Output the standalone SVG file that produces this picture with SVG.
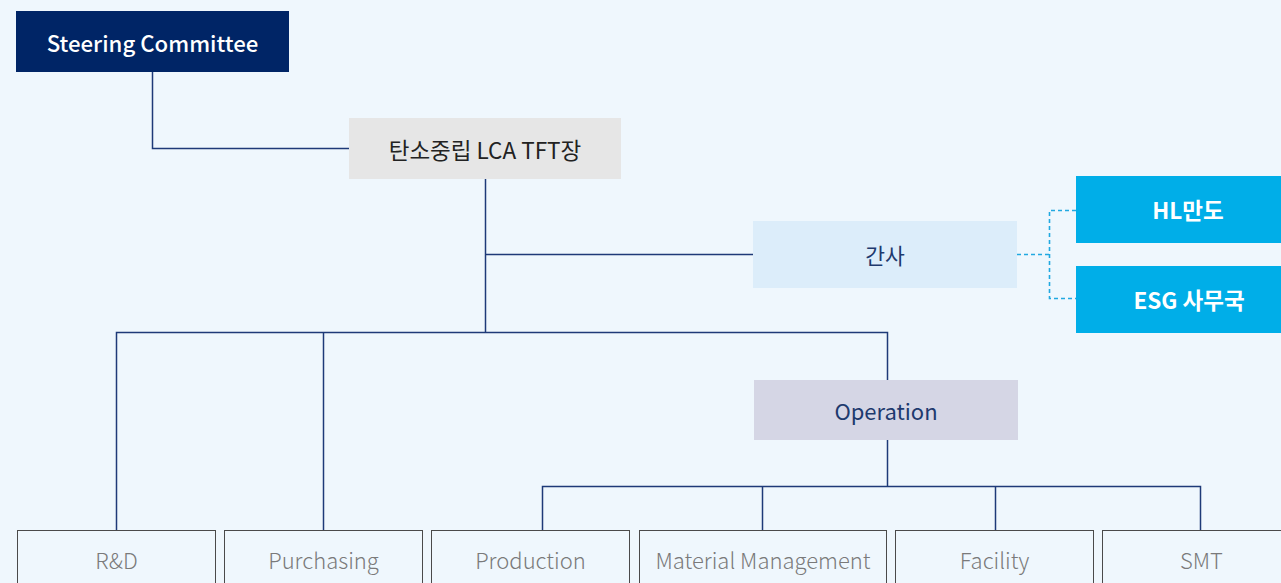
<svg xmlns="http://www.w3.org/2000/svg" width="1281" height="583" viewBox="0 0 1281 583">
<style>
text{font-family:"Noto Sans CJK KR","Noto Sans",sans-serif;text-anchor:middle;dominant-baseline:central}
.ln{stroke:#1e3a78;stroke-width:1.5;fill:none}
.dash{stroke:#21a9e1;stroke-width:1.6;fill:none;stroke-dasharray:4 3}
.bot rect{fill:#eff7fd;stroke:#4a4a4a;stroke-width:1}
.bot text{fill:#7a7a7a;font-size:22px;font-weight:300}
.blue rect{fill:#00aee8}
.blue text{fill:#fff;font-size:22.5px;font-weight:700}
</style>
<rect width="1281" height="583" fill="#eff7fd"/>
<g id="connectors">
<path class="ln" d="M152.5 72V148.5H349"/>
<path class="ln" d="M485.5 179V332.5"/>
<path class="ln" d="M485.5 254.5H753"/>
<path class="ln" d="M116.5 530V332.5H887.5V380"/>
<path class="ln" d="M323.5 332.5V530"/>
<path class="ln" d="M887.5 440V486.5"/>
<path class="ln" d="M542.5 530V486.5H1200.5V530"/>
<path class="ln" d="M762.5 486.5V530"/>
<path class="ln" d="M995.5 486.5V530"/>
<path class="dash" d="M1017 254.5H1049.5"/>
<path class="dash" d="M1076 210.5H1049.5V298.5H1076"/>
</g>
<g id="steering">
<rect x="16" y="11" width="273" height="61" fill="#002566"/>
<text x="152.5" y="42" fill="#fff" font-size="22.2" font-weight="500">Steering Committee</text>
</g>
<g id="tft">
<rect x="349" y="118" width="272" height="61" fill="#e6e6e6"/>
<text x="485" y="149" fill="#222" font-size="22.5">탄소중립 LCA TFT장</text>
</g>
<g id="gansa">
<rect x="753" y="221" width="264" height="67" fill="#dcedfa"/>
<text x="885" y="254" fill="#1e3a6e" font-size="21.5">간사</text>
</g>
<g id="hl" class="blue">
<rect x="1076" y="176" width="224" height="67"/>
<text x="1188" y="209">HL만도</text>
</g>
<g id="esg" class="blue">
<rect x="1076" y="266" width="224" height="67"/>
<text x="1189" y="299">ESG 사무국</text>
</g>
<g id="operation">
<rect x="754" y="380" width="264" height="60" fill="#d5d6e5"/>
<text x="886" y="410" fill="#1e3a6e" font-size="22">Operation</text>
</g>
<g id="rd" class="bot"><rect x="17.5" y="530.5" width="198" height="70"/><text x="116.5" y="559">R&amp;D</text></g>
<g id="purchasing" class="bot"><rect x="224.5" y="530.5" width="198" height="70"/><text x="323.5" y="559">Purchasing</text></g>
<g id="production" class="bot"><rect x="431.5" y="530.5" width="198" height="70"/><text x="530.5" y="559">Production</text></g>
<g id="material" class="bot"><rect x="639.5" y="530.5" width="247" height="70"/><text x="763" y="559">Material Management</text></g>
<g id="facility" class="bot"><rect x="895.5" y="530.5" width="198" height="70"/><text x="994.5" y="559">Facility</text></g>
<g id="smt" class="bot"><rect x="1102.5" y="530.5" width="198" height="70"/><text x="1201.5" y="559">SMT</text></g>
</svg>
